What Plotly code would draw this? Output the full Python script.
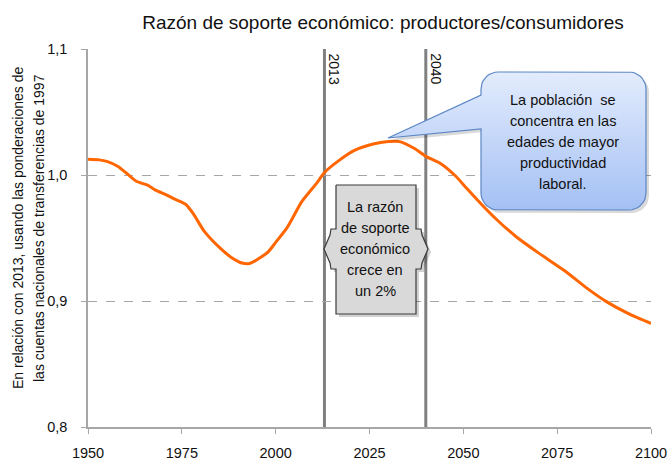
import numpy as np
import plotly.graph_objects as go

# ---- data ----
years = [1950, 1953, 1955, 1958, 1961, 1963, 1966, 1968, 1971, 1973, 1976, 1978,
         1981, 1985, 1988, 1991, 1993, 1995, 1998, 2000, 2003, 2007, 2011, 2013,
         2017, 2021, 2026, 2030, 2033, 2037, 2040, 2044, 2048, 2051, 2055, 2059,
         2064, 2070, 2077, 2083, 2088, 2094, 2100]
ratio = [1.0125, 1.0120, 1.0108, 1.0068, 0.9995, 0.9948, 0.9918, 0.9880, 0.9841,
         0.9810, 0.9768, 0.9695, 0.9552, 0.9425, 0.9350, 0.9302, 0.9298, 0.9328,
         0.9390, 0.9465, 0.9580, 0.9790, 0.9938, 1.0020, 1.0118, 1.0195, 1.0246,
         1.0265, 1.0265, 1.0210, 1.0148, 1.0090, 0.9990, 0.9890, 0.9762, 0.9643,
         0.9512, 0.9382, 0.9240, 0.9100, 0.8997, 0.8900, 0.8822]
x_ticks = [1950, 1975, 2000, 2025, 2050, 2075, 2100]
y_ticks = [0.8, 0.9, 1.0, 1.1]
y_tick_labels = ["0,8", "0,9", "1,0", "1,1"]
marker_years = [2013, 2040]
title_text = "Razón de soporte económico: productores/consumidores"
ytitle_lines = ["En relación con 2013, usando las ponderaciones de",
                "las cuentas nacionales de transferencias de 1997"]
blue_lines = ["La población  se", "concentra en las", "edades de mayor",
              "productividad", "laboral."]
grey_lines = ["La razón", "de soporte", "económico", "crece en", "un 2%"]

W, H = 668, 464
L, R, T, B = 88, 17, 49, 37
FONT = "Liberation Sans, Arial, sans-serif"
TXT = "#111111"


def px(x):
    return (x - L) / (W - L - R)


def py(y):
    return (H - B - y) / (H - T - B)


fig = go.Figure()
fig.add_trace(go.Scatter(x=years, y=ratio, mode="lines",
                         line=dict(color="#ff6600", width=3, shape="spline", smoothing=0.6),
                         hoverinfo="skip", showlegend=False))


# ---- decorative callouts (pixel coordinates on an overlay axis) ----
def rounded_callout(x0, y0, x1, y1, r, ptr_top, ptr_bot, tip):
    pts = []

    def arc(cx, cy, a0, a1):
        for a in np.linspace(a0, a1, 10):
            pts.append((cx + r * np.cos(a), cy + r * np.sin(a)))
    arc(x0 + r, y0 + r, np.pi, 1.5 * np.pi)
    arc(x1 - r, y0 + r, 1.5 * np.pi, 2 * np.pi)
    arc(x1 - r, y1 - r, 0, 0.5 * np.pi)
    arc(x0 + r, y1 - r, 0.5 * np.pi, np.pi)
    pts.append((x0, ptr_bot))
    pts.append(tip)
    pts.append((x0, ptr_top))
    pts.append((x0, y0 + r))
    return pts


def grey_box(x0, y0, x1, y1):
    ay0, ay1, amid = 229, 269, 249
    return [(x0, y0), (x1, y0), (x1, ay0), (x1 + 5, ay0), (x1 + 6, ay0 + 6),
            (x1 + 12, amid), (x1 + 6, ay1 - 6), (x1 + 5, ay1), (x1, ay1),
            (x1, y1), (x0, y1), (x0, ay1), (x0 - 5, ay1), (x0 - 6, ay1 - 6),
            (x0 - 12, amid), (x0 - 6, ay0 + 6), (x0 - 5, ay0), (x0, ay0), (x0, y0)]


def add_poly(pts, dx=0, dy=0, **kw):
    xs = [p[0] + dx for p in pts] + [pts[0][0] + dx]
    ys = [H - (p[1] + dy) for p in pts] + [H - (pts[0][1] + dy)]
    fig.add_trace(go.Scatter(x=xs, y=ys, xaxis="x2", yaxis="y2", mode="lines",
                             fill="toself", hoverinfo="skip", showlegend=False, **kw))


blue = rounded_callout(481, 72, 646, 210, 17, 95, 129, (388, 138))
grey = grey_box(336, 185, 416, 314)

add_poly(blue, 3, 3, line=dict(width=0), fillcolor="rgba(0,0,0,0.15)")
add_poly(blue, line=dict(color="#5b86c4", width=1.2),
         fillgradient=dict(type="vertical",
                           colorscale=[[0, "#a4c0f4"], [1, "#e3ecfd"]]))
add_poly(grey, 3, 3, line=dict(width=0), fillcolor="rgba(0,0,0,0.18)")
add_poly(grey, line=dict(color="#3a3a3a", width=1.2), fillcolor="#d9d9d9")

# vertical marker lines
for yr in marker_years:
    fig.add_shape(type="line", xref="x", yref="paper", x0=yr, x1=yr, y0=0, y1=1,
                  line=dict(color="#808080", width=3), layer="below")
    fig.add_annotation(x=yr, y=py(69), xref="x", yref="paper", text=str(yr),
                       textangle=90, showarrow=False, xanchor="left", yanchor="middle",
                       xshift=0, font=dict(family=FONT, size=14, color=TXT))

for i, t in enumerate(blue_lines):
    fig.add_annotation(x=px(563), y=py(100 + 21 * i), xref="paper", yref="paper",
                       text=t, showarrow=False, xanchor="center", yanchor="middle",
                       font=dict(family=FONT, size=14.5, color=TXT))
for i, t in enumerate(grey_lines):
    fig.add_annotation(x=px(375), y=py(207 + 21 * i), xref="paper", yref="paper",
                       text=t, showarrow=False, xanchor="center", yanchor="middle",
                       font=dict(family=FONT, size=14.5, color=TXT))

# y-axis title (two lines)
for i, t in enumerate(ytitle_lines):
    fig.add_annotation(x=px(18 + 21 * i), y=py(228), xref="paper", yref="paper",
                       text=t, textangle=-90, showarrow=False,
                       xanchor="center", yanchor="middle",
                       font=dict(family=FONT, size=14, color=TXT))

fig.update_layout(
    width=W, height=H,
    margin=dict(l=L, r=R, t=T, b=B, pad=0, autoexpand=False),
    paper_bgcolor="white", plot_bgcolor="white",
    title=dict(text=title_text, x=383 / W, xanchor="center", y=1 - 22 / H,
               yanchor="middle", font=dict(family=FONT, size=19, color=TXT)),
    xaxis=dict(range=[1950, 2100], tickvals=x_ticks, showgrid=False, zeroline=False,
               showline=True, linecolor="#a6a6a6", linewidth=1.5, automargin=False,
               ticks="outside", ticklen=5, tickcolor="#a6a6a6",
               ticklabelstandoff=7,
               tickfont=dict(family=FONT, size=14.5, color=TXT)),
    yaxis=dict(range=[0.8, 1.1], tickvals=y_ticks, ticktext=y_tick_labels,
               showgrid=True, gridcolor="#a6a6a6", griddash="dash", gridwidth=1,
               zeroline=False, showline=True, linecolor="#a6a6a6", linewidth=1.5,
               automargin=False,
               ticks="outside", ticklen=5, tickcolor="#a6a6a6",
               ticklabelstandoff=11,
               tickfont=dict(family=FONT, size=14.5, color=TXT)),
    xaxis2=dict(range=[L, W - R], overlaying="x", visible=False, fixedrange=True),
    yaxis2=dict(range=[B, H - T], overlaying="y", visible=False, fixedrange=True),
)

fig.write_html("out.html", config={"displayModeBar": False},
               post_script="document.body.style.margin='0px';")
